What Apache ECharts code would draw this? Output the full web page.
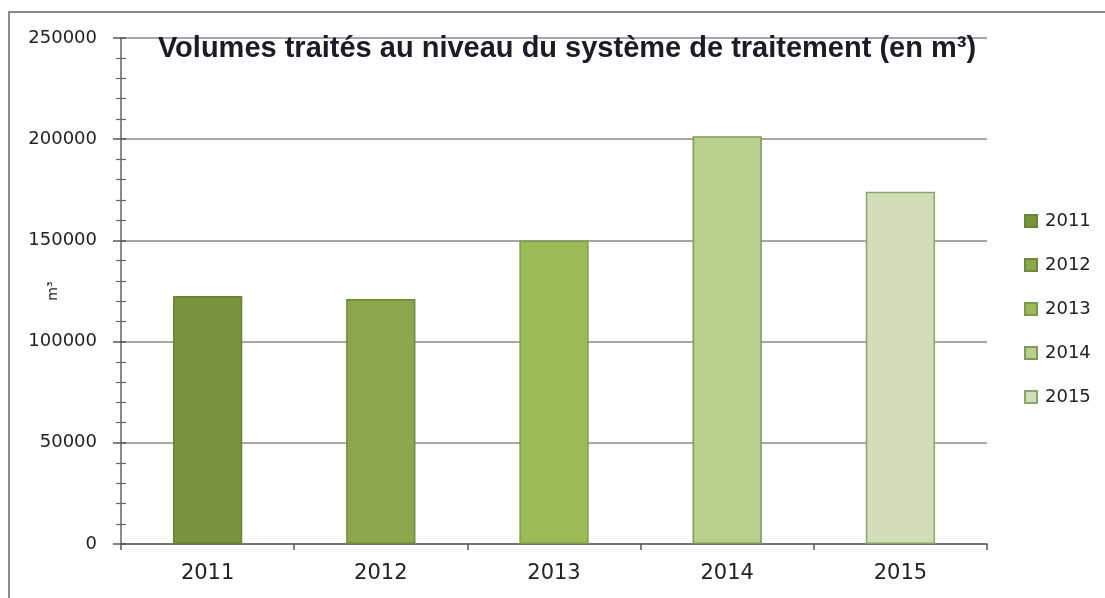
<!DOCTYPE html>
<html>
<head>
<meta charset="utf-8">
<script src="https://cdn.jsdelivr.net/npm/echarts@6/dist/echarts.min.js"></script>
<style>
  html, body { margin: 0; padding: 0; background: #fff; }
  #chart { width: 1105px; height: 598px; }
</style>
</head>
<body>
<div id="chart"></div>
<script>
// years on the x axis, one bar each
const years = ['2011', '2012', '2013', '2014', '2015'];
// volumes in m3
const volumes = [122500, 121000, 150000, 201500, 174000];
const yTicks = [0, 50000, 100000, 150000, 200000, 250000];

const fills = ['#77933c', '#8aa74b', '#9bbb59', '#b8d08e', '#d1deb8'];
const borders = ['#6a8434', '#6f8a3a', '#7f9a48', '#7f9a55', '#8fa36e'];

const chart = echarts.init(document.getElementById('chart'));

// one series per year so the legend lists each year; stacked so bars stay centred
const series = years.map((y, i) => {
  return {
    name: y,
    type: 'bar',
    stack: 'all',
    barWidth: '40%',
    data: years.map((c, j) => (j === i ? volumes[j] : '-')),
    itemStyle: {
      color: fills[i],
      borderColor: borders[i],
      borderWidth: 1.5
    }
  };
});

const labelFont = 'DejaVu Sans';

chart.setOption({
  animation: false,
  title: {
    text: 'Volumes traités au niveau du système de traitement (en m³)',
    left: 562,
    textAlign: 'center',
    top: 29,
    textStyle: {
      fontFamily: 'Liberation Sans',
      fontWeight: 'bold',
      fontSize: 29,
      color: '#1c1c24'
    }
  },
  legend: {
    orient: 'vertical',
    left: 1019,
    top: 207,
    itemWidth: 12,
    itemHeight: 12,
    itemGap: 26,
    icon: 'rect',
    data: years,
    textStyle: { fontFamily: labelFont, fontSize: 18, color: '#222', padding: [0, 0, 0, 3] }
  },
  grid: { left: 121, top: 38, right: 118, bottom: 54, outerBoundsMode: 'none', containLabel: false },
  xAxis: {
    type: 'category',
    data: years,
    axisLine: { lineStyle: { color: '#666', width: 1.5 } },
    axisTick: { show: true, length: 6, lineStyle: { color: '#555', width: 1.5 } },
    axisLabel: { fontFamily: labelFont, fontSize: 21, color: '#222', margin: 19 }
  },
  yAxis: [
    {
      type: 'value',
      min: 0,
      max: 250000,
      interval: 50000,
      name: 'm³',
      nameLocation: 'middle',
      nameGap: 61,
      nameRotate: 90,
      nameMoveOverlap: false,
      nameTextStyle: { fontFamily: labelFont, fontSize: 14, color: '#222' },
      axisLine: { show: true, lineStyle: { color: '#666', width: 1.5 } },
      axisTick: { show: true, length: 8, lineStyle: { color: '#555', width: 1.5 } },
      minorTick: { show: true, splitNumber: 5, length: 5, lineStyle: { color: '#666', width: 1.2 } },
      axisLabel: {
        fontFamily: labelFont, fontSize: 18, color: '#222', margin: 24,
        formatter: v => (yTicks.indexOf(v) >= 0 ? String(v) : '')
      },
      splitLine: { show: true, lineStyle: { color: '#8a8a8a', width: 1.5 } }
    },
    {
      // second copy of the axis only for the ticks that cross to the inside
      type: 'value',
      position: 'left',
      min: 0,
      max: 250000,
      interval: 50000,
      axisLine: { show: false },
      axisTick: { show: true, inside: true, length: 5, lineStyle: { color: '#555', width: 1.5 } },
      minorTick: { show: true, splitNumber: 5, length: 5, lineStyle: { color: '#666', width: 1.2 } },
      axisLabel: { show: false },
      splitLine: { show: false }
    }
  ],
  graphic: [
    {
      type: 'rect',
      shape: { x: 9, y: 12, width: 1120, height: 620 },
      style: { fill: 'none', stroke: '#8c8c8c', lineWidth: 2 },
      silent: true
    }
  ],
  series: series
});
</script>
</body>
</html>
